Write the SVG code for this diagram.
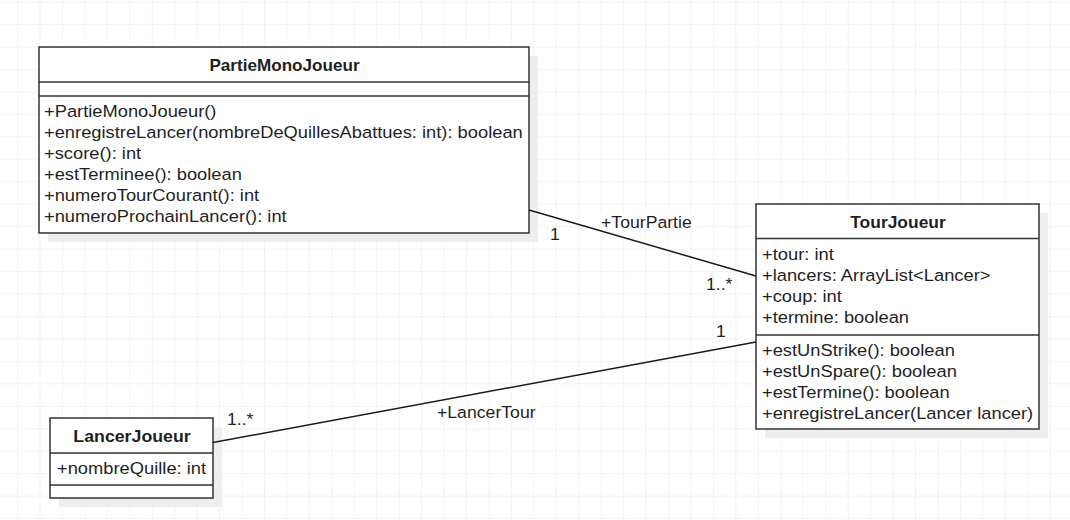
<svg xmlns="http://www.w3.org/2000/svg" width="1070" height="520" viewBox="0 0 1070 520">
  <style>
    .box { fill: #ffffff; stroke: #333333; stroke-width: 1.5; }
    .shadow { fill: #eeeeee; }
    .sep { stroke: #333333; stroke-width: 1.5; }
    .title { font-family: "Liberation Sans", Arial, sans-serif; font-size: 16px; font-weight: bold; fill: #1f1f1f; text-anchor: middle; }
    .member { font-family: "Liberation Sans", Arial, sans-serif; font-size: 16.5px; fill: #1f1f1f; }
    .lbl { font-family: "Liberation Sans", Arial, sans-serif; font-size: 16.5px; fill: #1f1f1f; }
    .edge { stroke: #1a1a1a; stroke-width: 1.5; fill: none; }
    .lblbg { fill: #ffffff; }
  </style>
  <defs>
    <pattern id="grid" x="-5.4" y="1.7" width="22.45" height="22.45" patternUnits="userSpaceOnUse">
      <path d="M0 0 V22.45 M0 0 H22.45" stroke="#e8e8e8" stroke-width="1" fill="none"/>
    </pattern>
  </defs>
  <rect x="0" y="0" width="1070" height="520" fill="#ffffff"/>
  <rect x="0" y="0" width="1070" height="520" fill="url(#grid)"/>

  <g id="PartieMonoJoueur">
    <rect class="shadow" x="48" y="56" width="490" height="186"/>
    <rect class="box" x="39" y="47" width="490" height="186"/>
    <line class="sep" x1="39" y1="82" x2="529" y2="82"/>
    <line class="sep" x1="39" y1="96" x2="529" y2="96"/>
    <text class="title" transform="translate(284.5 70.5) scale(1.07 1)">PartieMonoJoueur</text>
    <text class="member" transform="translate(44 116.5) scale(1.11 1)">+PartieMonoJoueur()</text>
    <text class="member" transform="translate(44 137.5) scale(1.11 1)">+enregistreLancer(nombreDeQuillesAbattues: int): boolean</text>
    <text class="member" transform="translate(44 158.5) scale(1.11 1)">+score(): int</text>
    <text class="member" transform="translate(44 179.5) scale(1.11 1)">+estTerminee(): boolean</text>
    <text class="member" transform="translate(44 200.5) scale(1.11 1)">+numeroTourCourant(): int</text>
    <text class="member" transform="translate(44 221.5) scale(1.11 1)">+numeroProchainLancer(): int</text>
  </g>

  <g id="TourJoueur">
    <rect class="shadow" x="765" y="213" width="283" height="225"/>
    <rect class="box" x="756" y="204" width="283" height="225"/>
    <line class="sep" x1="756" y1="238.5" x2="1039" y2="238.5"/>
    <line class="sep" x1="756" y1="335" x2="1039" y2="335"/>
    <text class="title" transform="translate(898 228) scale(1.09 1)">TourJoueur</text>
    <text class="member" transform="translate(762 260) scale(1.11 1)">+tour: int</text>
    <text class="member" transform="translate(762 281) scale(1.11 1)">+lancers: ArrayList&lt;Lancer&gt;</text>
    <text class="member" transform="translate(762 302) scale(1.11 1)">+coup: int</text>
    <text class="member" transform="translate(762 323) scale(1.11 1)">+termine: boolean</text>
    <text class="member" transform="translate(762 355.5) scale(1.11 1)">+estUnStrike(): boolean</text>
    <text class="member" transform="translate(762 376.5) scale(1.11 1)">+estUnSpare(): boolean</text>
    <text class="member" transform="translate(762 397.5) scale(1.11 1)">+estTermine(): boolean</text>
    <text class="member" transform="translate(762 418.5) scale(1.11 1)">+enregistreLancer(Lancer lancer)</text>
  </g>

  <g id="LancerJoueur">
    <rect class="shadow" x="59" y="427" width="163" height="80"/>
    <rect class="box" x="50" y="418" width="163" height="80"/>
    <line class="sep" x1="50" y1="453" x2="213" y2="453"/>
    <line class="sep" x1="50" y1="485" x2="213" y2="485"/>
    <text class="title" transform="translate(132 441.5) scale(1.11 1)">LancerJoueur</text>
    <text class="member" transform="translate(57 473.5) scale(1.11 1)">+nombreQuille: int</text>
  </g>

  <g id="connectors">
    <line class="edge" x1="529" y1="210" x2="756" y2="276"/>
    <line class="edge" x1="213" y1="442.5" x2="756" y2="342"/>
    <rect class="lblbg" x="600" y="213" width="97" height="17"/>
    <text class="lbl" transform="translate(601 227.5) scale(1.07 1)">+TourPartie</text>
    <text class="lbl" transform="translate(550 240) scale(1.07 1)">1</text>
    <text class="lbl" transform="translate(706 290) scale(1.07 1)">1..*</text>
    <rect class="lblbg" x="436" y="403" width="104" height="18"/>
    <text class="lbl" transform="translate(437 418) scale(1.07 1)">+LancerTour</text>
    <text class="lbl" transform="translate(227 425) scale(1.07 1)">1..*</text>
    <text class="lbl" transform="translate(716 337) scale(1.07 1)">1</text>
  </g>
</svg>
